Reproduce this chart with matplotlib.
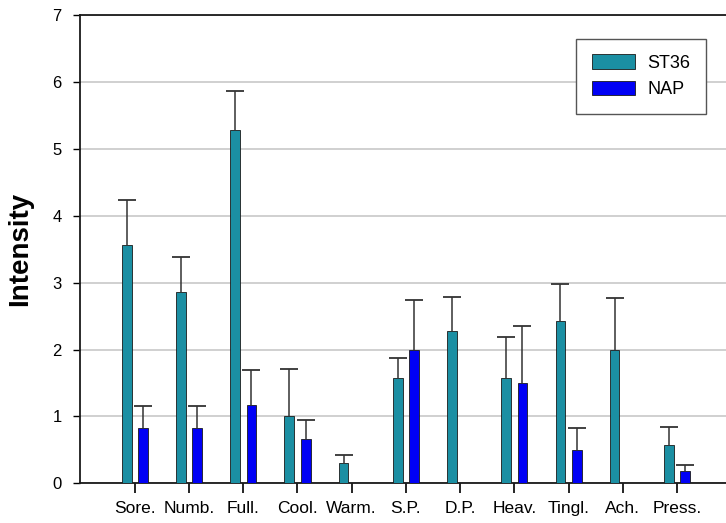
import matplotlib
matplotlib.use("Agg")
import matplotlib.pyplot as plt
import numpy as np

categories = ["Sore.", "Numb.", "Full.", "Cool.", "Warm.", "S.P.", "D.P.", "Heav.", "Tingl.", "Ach.", "Press."]
st36 = [3.57, 2.86, 5.29, 1.0, 0.30, 1.58, 2.28, 1.58, 2.43, 2.0, 0.58]
st36_err = [0.67, 0.52, 0.57, 0.71, 0.12, 0.30, 0.51, 0.61, 0.55, 0.77, 0.26]
nap = [0.83, 0.83, 1.17, 0.67, 0.0, 2.0, 0.0, 1.50, 0.50, 0.0, 0.18]
nap_err = [0.32, 0.32, 0.52, 0.27, 0.0, 0.74, 0.0, 0.85, 0.33, 0.0, 0.10]
yticks = [0, 1, 2, 3, 4, 5, 6, 7]

plt.rcParams['font.family'] = ['Liberation Sans', 'DejaVu Sans']

fig = plt.figure(figsize=(7.26, 5.23), dpi=100)
ax = fig.add_axes([0.110, 0.0759, 0.890, 0.895])

x = np.arange(len(categories))
w = 0.18
off = 0.15

def plot_series(vals, errs, pos, color, label):
    vals = np.array(vals)
    errs = np.array(errs)
    mask = vals > 0
    ax.bar(pos, vals, w, color=color, edgecolor='#1a1a1a', linewidth=0.6, label=label, zorder=3)
    eb = ax.errorbar(pos[mask], vals[mask], yerr=[np.zeros(mask.sum()), errs[mask]],
                     fmt='none', ecolor='#333333', elinewidth=1.1, capsize=6.5, capthick=1.3, zorder=4)
    caps = eb[1]
    if len(caps) == 2:
        caps[0].set_visible(False)

plot_series(st36, st36_err, x - off, '#1b8fa3', 'ST36')
plot_series(nap, nap_err, x + off, '#0000f5', 'NAP')

ax.set_xlim(-1.015, 10.905)
ax.set_ylim(0, 7)
ax.set_yticks(yticks)
ax.set_yticklabels([str(t) for t in yticks], fontsize=12)
ax.set_xticks(x)
ax.set_xticklabels(categories, fontsize=12.5)
ax.tick_params(axis='x', direction='out', length=7, width=1.2, pad=6)
ax.tick_params(axis='y', direction='out', length=5, width=1.0, pad=8)
ax.yaxis.grid(True, color='#c8c8c8', linewidth=1.2, zorder=0)
ax.set_axisbelow(True)
for s in ['left', 'bottom', 'top']:
    ax.spines[s].set_linewidth(1.3)
    ax.spines[s].set_color('#1a1a1a')
ax.spines['right'].set_visible(False)

ax.set_ylabel("Intensity", fontsize=20, fontweight='bold', labelpad=14)

leg = ax.legend(loc='upper right', bbox_to_anchor=(0.969, 0.949), borderaxespad=0, fontsize=13,
                frameon=True, fancybox=False, edgecolor='#555555', framealpha=1,
                handlelength=2.4, handleheight=0.85, borderpad=0.85, labelspacing=0.5,
                handletextpad=0.7)
leg.get_frame().set_linewidth(1.0)

fig.savefig("out.png", dpi=100)
